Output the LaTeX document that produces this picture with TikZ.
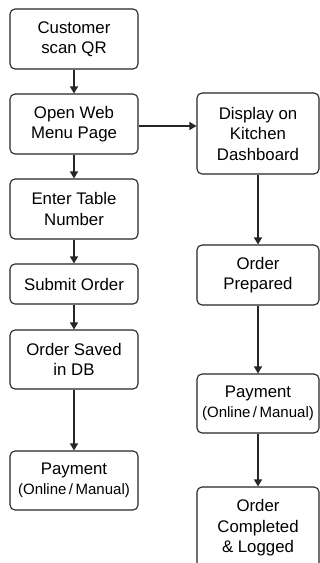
\documentclass[tikz,border=0pt]{standalone}
\usepackage{fontspec}
\setmainfont{Liberation Sans}
\usepackage{tikz}
\usetikzlibrary{arrows.meta}

\tikzset{
  stepbox/.style={draw=black!85, line width=1.1pt, rounded corners=5pt,
    align=center, inner sep=2pt, font=\fontsize{16.8}{20.5}\selectfont},
  flow/.style={draw=black!85, line width=1.1pt, -{Triangle[length=7pt,width=8pt]}}
}
\newcommand{\paysub}{{\fontsize{15}{20.5}\selectfont(Online\,/\,Manual)}}

\begin{document}
\begin{tikzpicture}[x=1pt,y=-1pt]
        \useasboundingbox[fill=white] (0,0) rectangle (320,563);
        % Customer side
        \node[stepbox, minimum width=128pt, minimum height=60pt] (scan) at (74,39) {Customer\\scan QR};
        \node[stepbox, minimum width=128pt, minimum height=60pt] (menu) at (74,124) {Open Web\\Menu Page};
        \node[stepbox, minimum width=128pt, minimum height=60pt] (table) at (74,209) {Enter Table\\Number};
        \node[stepbox, minimum width=128pt, minimum height=40pt] (submit) at (74,284) {Submit Order};
        \node[stepbox, minimum width=128pt, minimum height=59pt] (saved) at (74,359.5) {Order Saved\\in DB};
        \node[stepbox, minimum width=128pt, minimum height=59pt] (pay) at (74,480.5) {Payment\\\paysub};
        % Kitchen side
        \node[stepbox, minimum width=122pt, minimum height=81pt] (kitchen) at (258,133.5) {Display on\\Kitchen\\Dashboard};
        \node[stepbox, minimum width=122pt, minimum height=60pt] (prepared) at (258,275) {Order\\Prepared};
        \node[stepbox, minimum width=122pt, minimum height=59pt] (kpay) at (258,403.5) {Payment\\\paysub};
        \node[stepbox, minimum width=122pt, minimum height=82pt] (done) at (258,528) {Order\\Completed\\\& Logged};
        % Arrows
        \draw[flow] (scan) -- (menu);
        \draw[flow] (menu) -- (table);
        \draw[flow] (table) -- (submit);
        \draw[flow] (submit) -- (saved);
        \draw[flow] (saved) -- (pay);
        \draw[flow] (menu.east |- 0,126) -- (kitchen.west |- 0,126);
        \draw[flow] (kitchen) -- (prepared);
        \draw[flow] (prepared) -- (kpay);
        \draw[flow] (kpay) -- (done);
    \end{tikzpicture}
\end{document}
